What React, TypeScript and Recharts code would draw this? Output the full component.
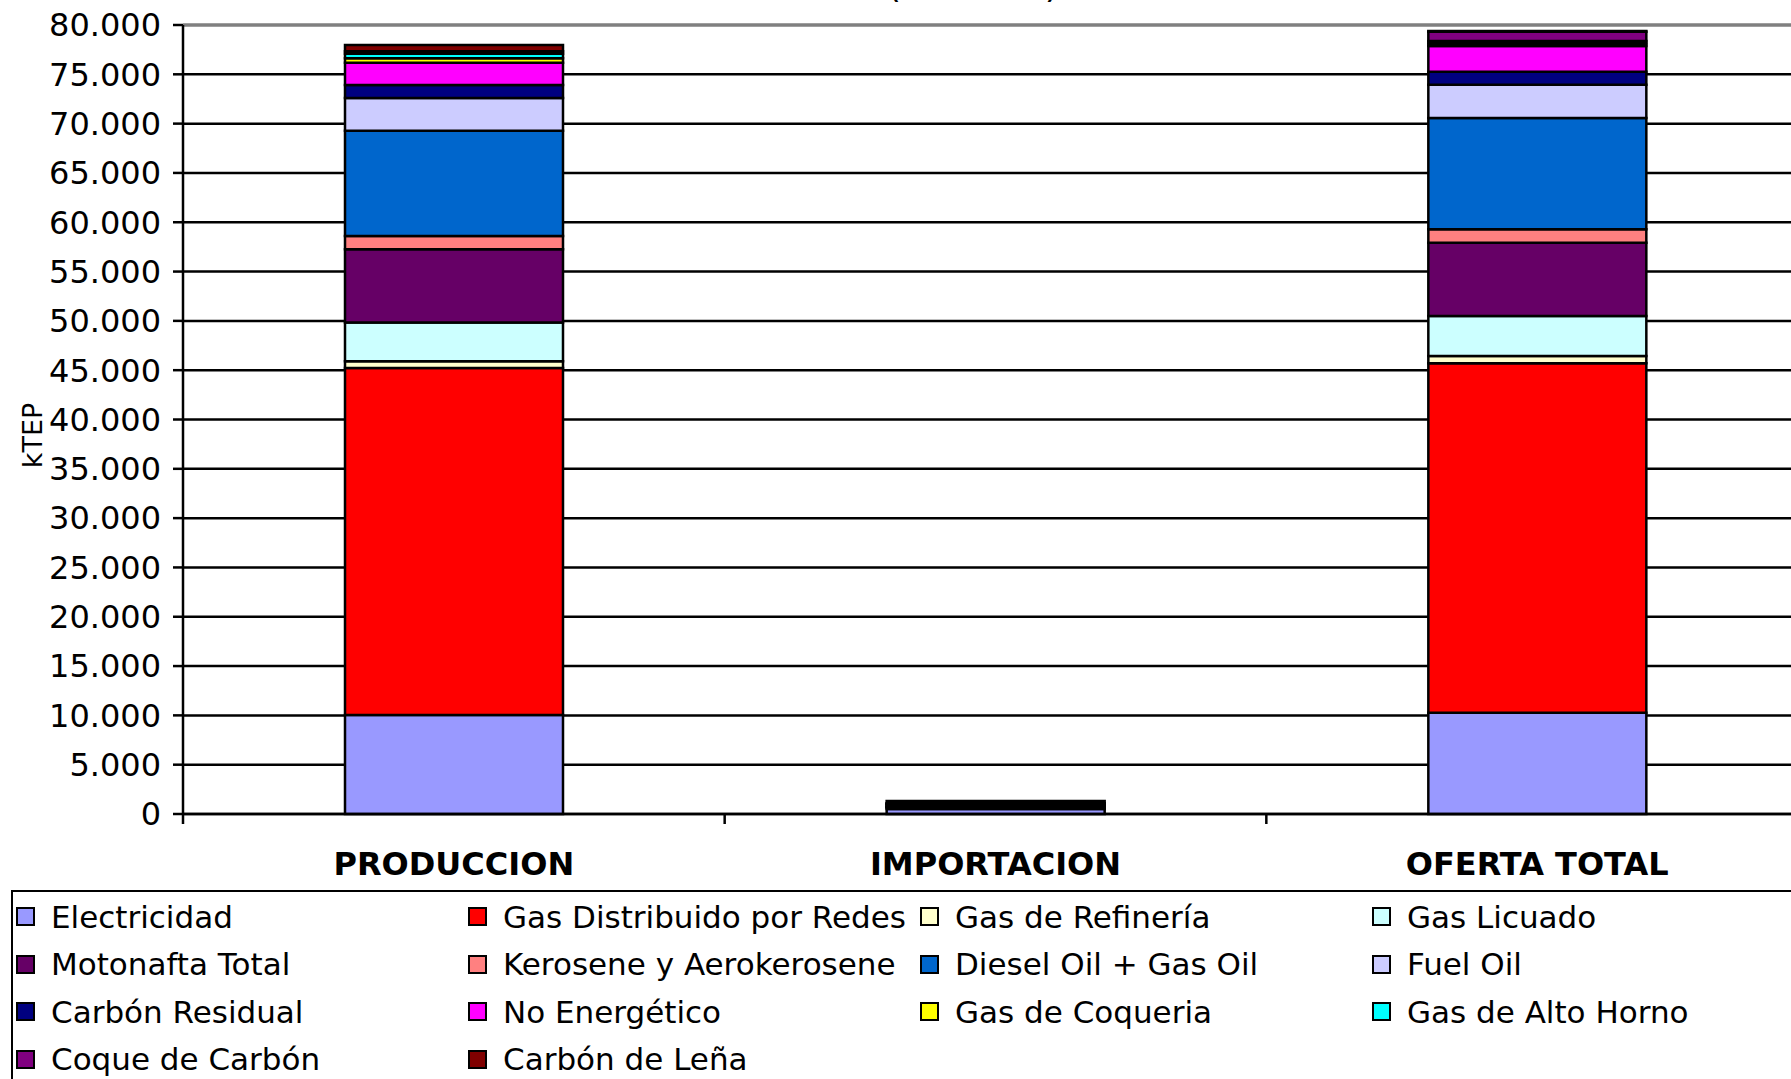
import React from 'react';
import { BarChart, Bar, XAxis, YAxis, CartesianGrid, ReferenceLine, Legend } from 'recharts';

// ---- data ----
const categories = ['PRODUCCION', 'IMPORTACION', 'OFERTA TOTAL'];

const electricidad = [10040, 500, 10260];
const gasDistribuido = [35180, 150, 35440];
const gasRefineria = [680, 0, 750];
const gasLicuado = [3935, 50, 4040];
const motonafta = [7420, 30, 7430];
const kerosene = [1350, 20, 1360];
const diesel = [10680, 150, 11290];
const fuelOil = [3315, 90, 3380];
const carbonResidual = [1315, 60, 1320];
const noEnergetico = [2265, 30, 2600];
const gasCoqueria = [450, 0, 250];
const gasAltoHorno = [450, 0, 250];
const coqueCarbon = [250, 250, 950];
const carbonLena = [650, 0, 70];

const seriesNames = [
  'Electricidad',
  'Gas Distribuido por Redes',
  'Gas de Refinería',
  'Gas Licuado',
  'Motonafta Total',
  'Kerosene y Aerokerosene',
  'Diesel Oil + Gas Oil',
  'Fuel Oil',
  'Carbón Residual',
  'No Energético',
  'Gas de Coqueria',
  'Gas de Alto Horno',
  'Coque de Carbón',
  'Carbón de Leña',
];
const seriesValues = [
  electricidad, gasDistribuido, gasRefineria, gasLicuado, motonafta, kerosene, diesel,
  fuelOil, carbonResidual, noEnergetico, gasCoqueria, gasAltoHorno, coqueCarbon, carbonLena,
];
const seriesColors = [
  '#9999FF', '#FF0000', '#FFFFCC', '#CCFFFF', '#660066', '#FF8080', '#0066CC',
  '#CCCCFF', '#000080', '#FF00FF', '#FFFF00', '#00FFFF', '#800080', '#800000',
];
const yTicks = [0, 5000, 10000, 15000, 20000, 25000, 30000, 35000, 40000, 45000, 50000, 55000, 60000, 65000, 70000, 75000, 80000];

const data = categories.map((category, i) => {
  const row: Record<string, any> = { category };
  seriesNames.forEach((name, s) => {
    row[name] = seriesValues[s][i];
  });
  return row;
});

// ---- layout ----
const CHART_W = 1830;
const CHART_H = 1079;
const Y_AXIS_W = 183;
const MARGIN = { top: 25, right: 22, left: 0, bottom: 0 };
const PLOT_W = CHART_W - Y_AXIS_W - MARGIN.left - MARGIN.right;
const X_AXIS_H = 265;
const BAND = PLOT_W / categories.length;
const FONT = '"DejaVu Sans", Verdana, sans-serif';
const LINE_W = 2.5;

const fmt = (v: number) => String(v).replace(/\B(?=(\d{3})+(?!\d))/g, '.');

function CategoryTick(props: any) {
  const { x, y, payload, index } = props;
  return (
    <g>
      <line x1={x - BAND / 2} x2={x - BAND / 2} y1={y - 10} y2={y} stroke="#000" strokeWidth={LINE_W} />
      {index === categories.length - 1 && (
        <line x1={x + BAND / 2} x2={x + BAND / 2} y1={y - 10} y2={y} stroke="#000" strokeWidth={LINE_W} />
      )}
      <text
        x={x}
        y={y + 28}
        dy="0.71em"
        textAnchor="middle"
        fontFamily={FONT}
        fontWeight="bold"
        fontSize={32}
        fill="#000"
      >
        {payload.value}
      </text>
    </g>
  );
}

function YLabel(props: any) {
  const vb = props.viewBox || { x: 0, y: 25, width: 183, height: 789 };
  const cx = vb.x + 32;
  const cy = vb.y + vb.height / 2 + 16;
  return (
    <text
      x={cx}
      y={cy}
      transform={`rotate(-90, ${cx}, ${cy})`}
      textAnchor="middle"
      dominantBaseline="central"
      fontFamily={FONT}
      fontSize={27}
      fill="#000"
    >
      kTEP
    </text>
  );
}

function LegendBox() {
  return (
    <div
      style={{
        border: '2px solid #000',
        boxSizing: 'border-box',
        width: '100%',
        height: '100%',
        display: 'grid',
        gridTemplateColumns: 'repeat(4, 452px)',
        gridAutoRows: '47.5px',
        paddingTop: 1,
        paddingLeft: 3,
        fontFamily: FONT,
        fontSize: 31,
        color: '#000',
        background: '#fff',
      }}
    >
      {seriesNames.map((name, i) => (
        <div key={name} style={{ display: 'flex', alignItems: 'center', whiteSpace: 'nowrap' }}>
          <span
            style={{
              display: 'inline-block',
              width: 19,
              height: 19,
              border: '2px solid #000',
              boxSizing: 'border-box',
              background: seriesColors[i],
              marginRight: 16,
              flex: 'none',
            }}
          />
          <span>{name}</span>
        </div>
      ))}
    </div>
  );
}

export default function App() {
  return (
    <div
      style={{
        position: 'absolute',
        left: 0,
        top: 0,
        width: 1791,
        height: 1079,
        overflow: 'hidden',
        background: '#fff',
      }}
    >
      <BarChart width={CHART_W} height={CHART_H} data={data} margin={MARGIN} barSize={218}>
        <CartesianGrid vertical={false} stroke="#000" strokeWidth={LINE_W} />
        <XAxis
          dataKey="category"
          height={X_AXIS_H}
          axisLine={{ stroke: '#000', strokeWidth: LINE_W }}
          tickLine={false}
          tickSize={10}
          tickMargin={0}
          interval={0}
          tick={<CategoryTick />}
        />
        <YAxis
          width={Y_AXIS_W}
          domain={[0, 80000]}
          ticks={yTicks}
          interval={0}
          tickFormatter={fmt}
          axisLine={{ stroke: '#000', strokeWidth: LINE_W }}
          tickLine={{ stroke: '#000', strokeWidth: LINE_W }}
          tickSize={10}
          tickMargin={12}
          tick={{ fill: '#000', fontFamily: FONT, fontSize: 32 }}
          label={{ content: <YLabel /> }}
        />
        <ReferenceLine y={80000} stroke="#808080" strokeWidth={3} />
        {seriesNames.map((name, i) => (
          <Bar
            key={name}
            dataKey={name}
            stackId="a"
            fill={seriesColors[i]}
            stroke="#000"
            strokeWidth={LINE_W}
            isAnimationActive={false}
          />
        ))}
        <Legend
          layout="vertical"
          align="center"
          verticalAlign="middle"
          content={<LegendBox />}
          wrapperStyle={{ position: 'absolute', left: 11, top: 890, width: 1820, height: 200, margin: 0 }}
        />
      </BarChart>
      <svg style={{ position: 'absolute', left: 0, top: 0, display: 'block' }} width={1791} height={30}>
        <text x={973} y={-3} textAnchor="middle" fontFamily={FONT} fontSize={36} fill="#000">
          (en kTEP)
        </text>
      </svg>
    </div>
  );
}
